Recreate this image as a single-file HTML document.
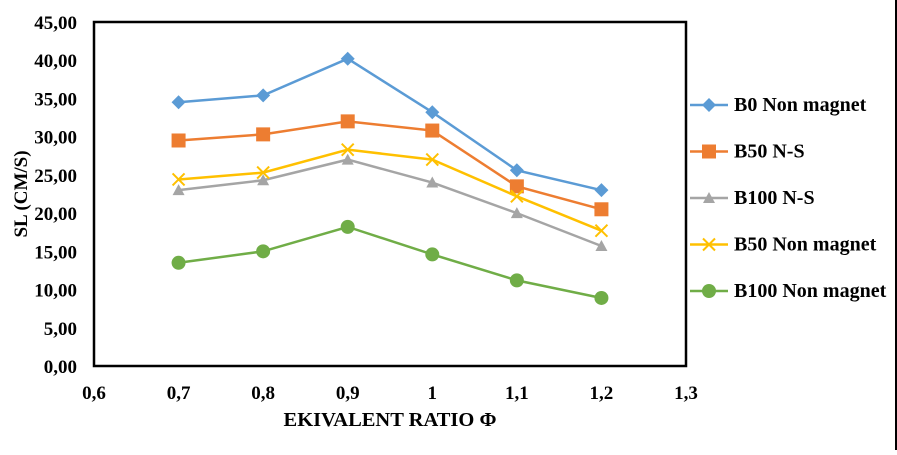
<!DOCTYPE html>
<html><head><meta charset="utf-8"><style>
body{margin:0;background:#fff;width:897px;height:450px;overflow:hidden}
svg text{font-family:"Liberation Serif",serif;font-weight:bold;fill:#000}
</style></head><body>
<svg id="c" width="897" height="450">
<line x1="896" y1="0" x2="896" y2="450" stroke="#000" stroke-width="2"/>
<rect x="94" y="22" width="592" height="344" fill="none" stroke="#000" stroke-width="2.5"/>
<g id="ax"></g><g id="ser"></g><g id="leg"></g>
<text x="0" y="0" transform="translate(27,194) rotate(-90)" text-anchor="middle" font-size="19">SL (CM/S)</text>
<text x="390" y="426" text-anchor="middle" font-size="20.5">EKIVALENT RATIO Φ</text>
</svg>
<script>
const xTicks=[0.6,0.7,0.8,0.9,1,1.1,1.2,1.3];
const yTicks=[0,5,10,15,20,25,30,35,40,45];
const categories=[0.7,0.8,0.9,1.0,1.1,1.2];
const seriesNames=["B0 Non magnet","B50 N-S","B100 N-S","B50 Non magnet","B100 Non magnet"];
const b0=[34.5,35.4,40.2,33.2,25.6,23.0];
const b50ns=[29.5,30.3,32.0,30.8,23.5,20.5];
const b100ns=[23.0,24.3,27.0,24.0,20.0,15.7];
const b50nm=[24.4,25.3,28.3,27.0,22.2,17.7];
const b100nm=[13.5,15.0,18.2,14.6,11.2,8.9];
const NS="http://www.w3.org/2000/svg";
const X=v=>94+(v-0.6)/0.7*592, Y=v=>366-v/45*344;
function mk(t,a,p){const e=document.createElementNS(NS,t);for(const k in a)e.setAttribute(k,a[k]);p.appendChild(e);return e;}
const ax=document.getElementById('ax');
xTicks.forEach(v=>{const t=mk('text',{x:X(v),y:399,'text-anchor':'middle','font-size':19},ax);t.textContent=String(v).replace('.',',');

});
yTicks.forEach(v=>{const t=mk('text',{x:77,y:Y(v)+7,'text-anchor':'end','font-size':19},ax);t.textContent=v.toFixed(2).replace('.',',');

});
const cols=["#5b9bd5","#ed7d31","#a5a5a5","#ffc000","#70ad47"];
const shapes=["diamond","square","triangle","x","circle"];
function marker(s,x,y,c,g){
 if(s=="diamond")return mk('polygon',{points:`${x},${y-7} ${x+7},${y} ${x},${y+7} ${x-7},${y}`,fill:c},g);
 if(s=="square")return mk('rect',{x:x-7,y:y-7,width:14,height:14,fill:c},g);
 if(s=="triangle")return mk('polygon',{points:`${x},${y-6} ${x+6},${y+5} ${x-6},${y+5}`,fill:c},g);
 if(s=="circle")return mk('circle',{cx:x,cy:y,r:7,fill:c},g);
 return mk('path',{d:`M${x-6},${y-6}L${x+6},${y+6}M${x+6},${y-6}L${x-6},${y+6}`,stroke:c,'stroke-width':2},g);
}
const ser=document.getElementById('ser'),leg=document.getElementById('leg');
[b0,b50ns,b100ns,b50nm,b100nm].forEach((d,i)=>{
 const g=mk('g',{},ser);
 
 
 const pl=mk('polyline',{points:d.map((v,j)=>X(categories[j])+','+Y(v)).join(' '),fill:'none',stroke:cols[i],'stroke-width':2.5},g);
 
 
 d.forEach((v,j)=>{const m=marker(shapes[i],X(categories[j]),Y(v),cols[i],g);
  
  });
 const ly=105+i*46.5;
 const lg=mk('g',{},leg);
 
 
 mk('line',{x1:690,y1:ly,x2:728,y2:ly,stroke:cols[i],'stroke-width':2.5},lg);
 marker(shapes[i],709,ly,cols[i],lg);
 const t=mk('text',{x:734,y:ly+6,'font-size':20},lg);t.textContent=seriesNames[i];
});
</script>
</body></html>
